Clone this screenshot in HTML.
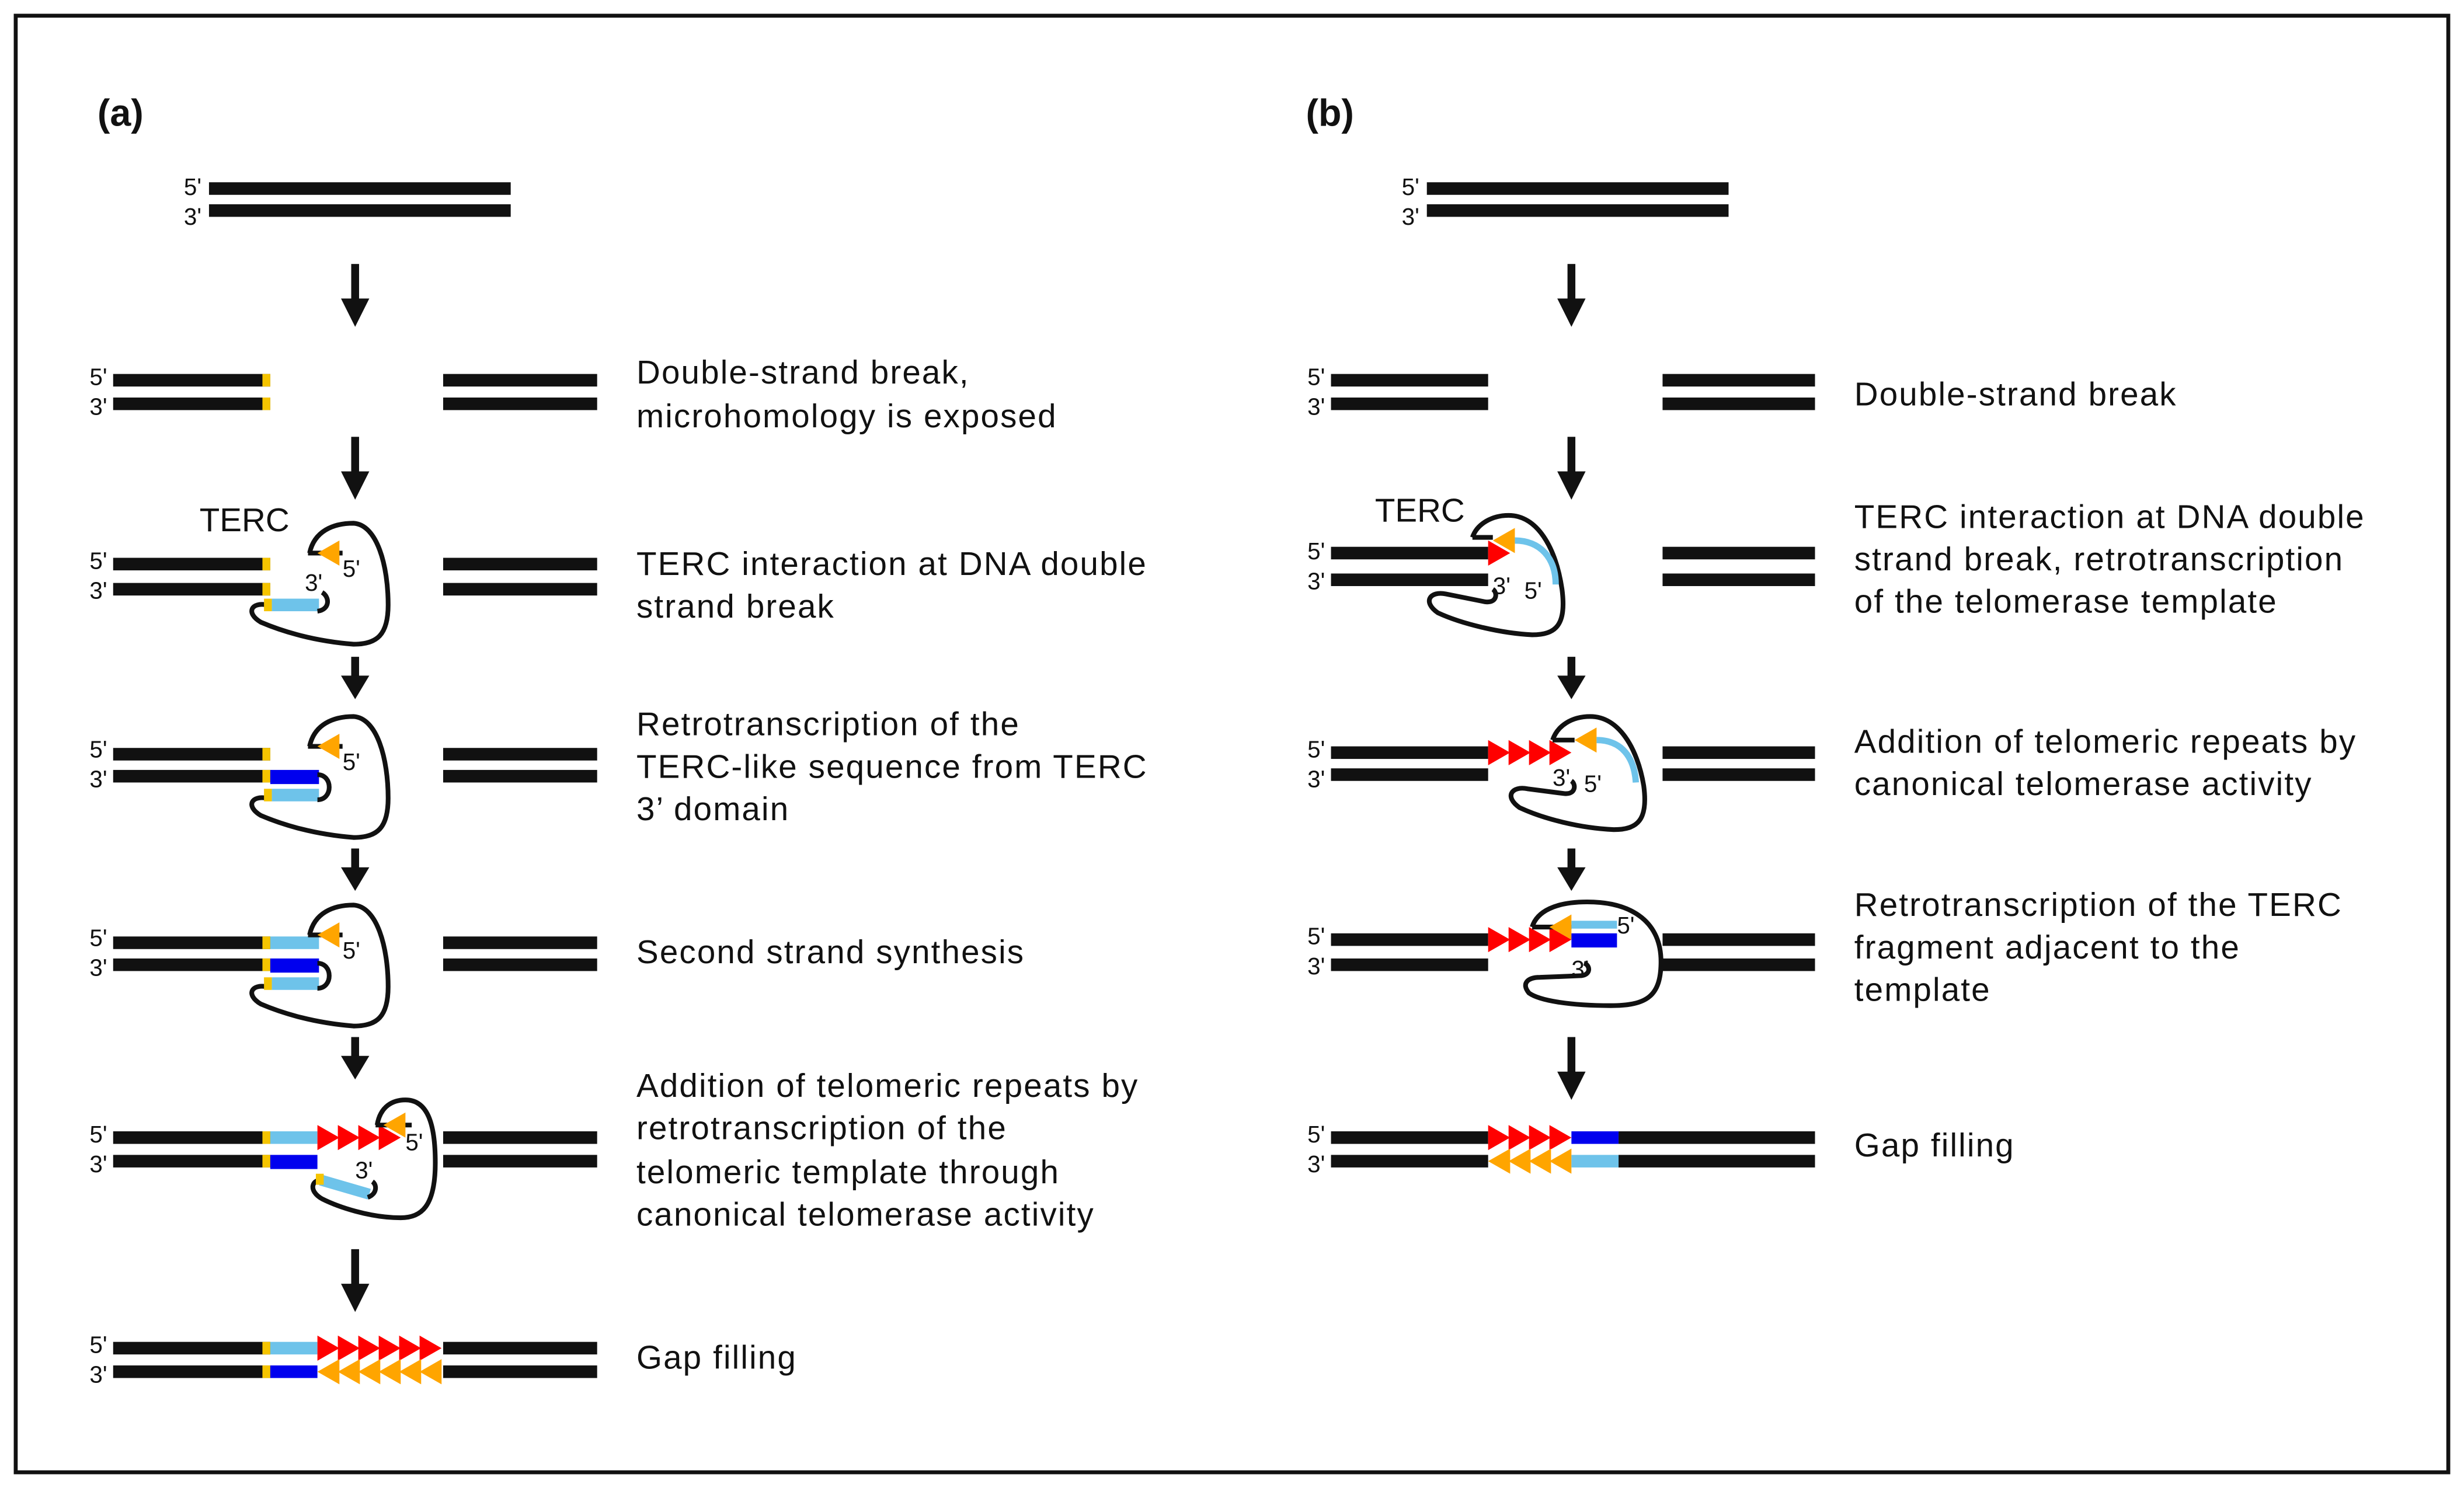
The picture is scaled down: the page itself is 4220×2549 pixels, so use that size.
<!DOCTYPE html>
<html><head><meta charset="utf-8"><style>
html,body{margin:0;padding:0;background:#fff}
svg{display:block}
text{font-family:"Liberation Sans",Arial,sans-serif;fill:#111}
.t{font-size:21px;letter-spacing:0.8px}
.p{font-size:15px}
</style></head><body>
<svg width="4220" height="2549" viewBox="0 0 1568 947" preserveAspectRatio="none" xmlns="http://www.w3.org/2000/svg">
<defs>
<path id="rt" d="M0,-8 L14,0 L0,8 Z" fill="#ff0000"/>
<path id="ot" d="M14,-8 L0,0 L14,8 Z" fill="#ffa500"/>
<g id="arr"><rect x="-2.5" y="0" width="5" height="24" fill="#111"/><path d="M-9,22 L9,22 L0,40 Z" fill="#111"/></g>
<g id="arrs"><rect x="-2.5" y="0" width="5" height="14" fill="#111"/><path d="M-9,12 L9,12 L0,27 Z" fill="#111"/></g>
<g id="loopA" fill="none" stroke="#111" stroke-width="3">
<path d="M197,352 C200,338 212,333 225,333 C240,334 247,360 247,385 C247,404 240,410 225,410 C200,408 180,402 166,396 C156,390 160,383 170,385"/>
<path d="M196,352 L218,352"/>
</g>
</defs>
<rect x="10" y="10" width="1548" height="927" fill="none" stroke="#111" stroke-width="2.5"/>
<text x="62" y="80" style="font-size:24px;font-weight:bold">(a)</text>
<text x="831" y="80" style="font-size:24px;font-weight:bold">(b)</text>

<!-- ===== Panel A ===== -->
<rect x="133" y="116" width="192" height="8" fill="#111"/><rect x="133" y="130" width="192" height="8" fill="#111"/>
<text class="p" x="117" y="124">5'</text><text class="p" x="117" y="143">3'</text>
<use href="#arr" x="226" y="168"/>

<rect x="72" y="238" width="100" height="8" fill="#111"/><rect x="72" y="253" width="100" height="8" fill="#111"/>
<rect x="167" y="238" width="5" height="8" fill="#f5c400"/><rect x="167" y="253" width="5" height="8" fill="#f5c400"/>
<rect x="282" y="238" width="98" height="8" fill="#111"/><rect x="282" y="253" width="98" height="8" fill="#111"/>
<text class="p" x="57" y="245">5'</text><text class="p" x="57" y="264">3'</text>
<text class="t" x="405" y="244">Double-strand break,</text>
<text class="t" x="405" y="272">microhomology is exposed</text>
<use href="#arr" x="226" y="278"/>

<text style="font-size:21px" x="127" y="338">TERC</text>
<rect x="72" y="355" width="100" height="8" fill="#111"/><rect x="72" y="371" width="100" height="8" fill="#111"/>
<rect x="167" y="355" width="5" height="8" fill="#f5c400"/><rect x="167" y="371" width="5" height="8" fill="#f5c400"/>
<rect x="282" y="355" width="98" height="8" fill="#111"/><rect x="282" y="371" width="98" height="8" fill="#111"/>
<text class="p" x="57" y="362">5'</text><text class="p" x="57" y="381">3'</text>
<use href="#loopA"/>
<rect x="168" y="381" width="5" height="8" fill="#f5c400"/><rect x="173" y="381" width="30" height="8" fill="#6ec3ea"/>
<path d="M202,389 C210,388 210,380 205,377" fill="none" stroke="#111" stroke-width="3"/>
<use href="#ot" x="202" y="352"/>
<text class="p" x="218" y="367">5'</text><text class="p" x="194" y="376">3'</text>
<text class="t" x="405" y="366">TERC interaction at DNA double</text>
<text class="t" x="405" y="393">strand break</text>
<use href="#arrs" x="226" y="418"/>

<g transform="translate(0,120)">
<rect x="72" y="356" width="100" height="8" fill="#111"/><rect x="72" y="370" width="100" height="8" fill="#111"/>
<rect x="167" y="356" width="5" height="8" fill="#f5c400"/><rect x="167" y="370" width="5" height="8" fill="#f5c400"/>
<rect x="172" y="370" width="31" height="9" fill="#0000ee"/>
<rect x="282" y="356" width="98" height="8" fill="#111"/><rect x="282" y="370" width="98" height="8" fill="#111"/>
<text class="p" x="57" y="362">5'</text><text class="p" x="57" y="381">3'</text>
<use href="#loopA" transform="translate(0,3)"/>
<rect x="168" y="382" width="5" height="8" fill="#f5c400"/><rect x="173" y="382" width="30" height="8" fill="#6ec3ea"/>
<path d="M202,373 C212,373 212,389 202,389" fill="none" stroke="#111" stroke-width="3"/>
<use href="#ot" x="202" y="355"/>
<text class="p" x="218" y="370">5'</text>
</g>
<text class="t" x="405" y="468">Retrotranscription of the</text>
<text class="t" x="405" y="495">TERC-like sequence from TERC</text>
<text class="t" x="405" y="522">3’ domain</text>
<use href="#arrs" x="226" y="540"/>

<g transform="translate(0,240)">
<rect x="72" y="356" width="100" height="8" fill="#111"/><rect x="72" y="370" width="100" height="8" fill="#111"/>
<rect x="167" y="356" width="5" height="8" fill="#f5c400"/><rect x="167" y="370" width="5" height="8" fill="#f5c400"/>
<rect x="172" y="356" width="31" height="8" fill="#6ec3ea"/>
<rect x="172" y="370" width="31" height="9" fill="#0000ee"/>
<rect x="282" y="356" width="98" height="8" fill="#111"/><rect x="282" y="370" width="98" height="8" fill="#111"/>
<text class="p" x="57" y="362">5'</text><text class="p" x="57" y="381">3'</text>
<use href="#loopA" transform="translate(0,3)"/>
<rect x="168" y="382" width="5" height="8" fill="#f5c400"/><rect x="173" y="382" width="30" height="8" fill="#6ec3ea"/>
<path d="M202,373 C212,373 212,389 202,389" fill="none" stroke="#111" stroke-width="3"/>
<use href="#ot" x="202" y="355"/>
<text class="p" x="218" y="370">5'</text>
</g>
<text class="t" x="405" y="613">Second strand synthesis</text>
<use href="#arrs" x="226" y="660"/>

<rect x="72" y="720" width="100" height="8" fill="#111"/><rect x="72" y="735" width="100" height="8" fill="#111"/>
<rect x="167" y="720" width="5" height="8" fill="#f5c400"/><rect x="167" y="735" width="5" height="8" fill="#f5c400"/>
<rect x="172" y="720" width="30" height="8" fill="#6ec3ea"/>
<rect x="172" y="735" width="30" height="9" fill="#0000ee"/>
<rect x="282" y="720" width="98" height="8" fill="#111"/><rect x="282" y="735" width="98" height="8" fill="#111"/>
<text class="p" x="57" y="727">5'</text><text class="p" x="57" y="746">3'</text>
<use href="#rt" x="202" y="724"/><use href="#rt" x="215" y="724"/><use href="#rt" x="228" y="724"/><use href="#rt" x="241" y="724"/>
<g fill="none" stroke="#111" stroke-width="3">
<path d="M240,716 C242,704 250,700 258,700 C272,700 277,715 277,740 C277,768 268,775 255,775 C235,775 215,768 205,763 C196,758 198,750 206,751"/>
<path d="M239,716 L262,716"/>
</g>
<path d="M204,751 L235,760" stroke="#6ec3ea" stroke-width="7"/>
<rect x="201" y="747" width="5" height="7" fill="#f5c400"/>
<path d="M234,762 C240,760 240,754 237,752" fill="none" stroke="#111" stroke-width="3"/>
<use href="#ot" x="244" y="716"/>
<text class="p" x="258" y="732">5'</text><text class="p" x="226" y="750">3'</text>
<text class="t" x="405" y="698">Addition of telomeric repeats by</text>
<text class="t" x="405" y="725">retrotranscription of the</text>
<text class="t" x="405" y="753">telomeric template through</text>
<text class="t" x="405" y="780">canonical telomerase activity</text>
<use href="#arr" x="226" y="795"/>

<rect x="72" y="854" width="100" height="8" fill="#111"/><rect x="72" y="869" width="100" height="8" fill="#111"/>
<rect x="167" y="854" width="5" height="8" fill="#f5c400"/><rect x="167" y="869" width="5" height="8" fill="#f5c400"/>
<rect x="172" y="854" width="30" height="8" fill="#6ec3ea"/><rect x="172" y="869" width="30" height="8" fill="#0000ee"/>
<use href="#rt" x="202" y="858"/><use href="#rt" x="215" y="858"/><use href="#rt" x="228" y="858"/><use href="#rt" x="241" y="858"/><use href="#rt" x="254" y="858"/><use href="#rt" x="267" y="858"/>
<use href="#ot" x="202" y="873"/><use href="#ot" x="215" y="873"/><use href="#ot" x="228" y="873"/><use href="#ot" x="241" y="873"/><use href="#ot" x="254" y="873"/><use href="#ot" x="267" y="873"/>
<rect x="282" y="854" width="98" height="8" fill="#111"/><rect x="282" y="869" width="98" height="8" fill="#111"/>
<text class="p" x="57" y="861">5'</text><text class="p" x="57" y="880">3'</text>
<text class="t" x="405" y="871">Gap filling</text>

<!-- ===== Panel B ===== -->
<rect x="908" y="116" width="192" height="8" fill="#111"/><rect x="908" y="130" width="192" height="8" fill="#111"/>
<text class="p" x="892" y="124">5'</text><text class="p" x="892" y="143">3'</text>
<use href="#arr" x="1000" y="168"/>

<rect x="847" y="238" width="100" height="8" fill="#111"/><rect x="847" y="253" width="100" height="8" fill="#111"/>
<rect x="1058" y="238" width="97" height="8" fill="#111"/><rect x="1058" y="253" width="97" height="8" fill="#111"/>
<text class="p" x="832" y="245">5'</text><text class="p" x="832" y="264">3'</text>
<text class="t" x="1180" y="258">Double-strand break</text>
<use href="#arr" x="1000" y="278"/>

<text style="font-size:21px" x="875" y="332">TERC</text>
<rect x="847" y="348" width="100" height="8" fill="#111"/><rect x="847" y="365" width="100" height="8" fill="#111"/>
<rect x="1058" y="348" width="97" height="8" fill="#111"/><rect x="1058" y="365" width="97" height="8" fill="#111"/>
<text class="p" x="832" y="356">5'</text><text class="p" x="832" y="375">3'</text>
<g fill="none" stroke="#111" stroke-width="3">
<path d="M937,342 C940,333 950,328 960,328 C978,328 990,348 994,375 C997,398 990,404 975,404 C955,403 930,397 915,390 C905,383 910,376 920,378 L945,383 C953,384 953,377 950,375"/>
<path d="M937,342 L950,342"/>
</g>
<use href="#rt" x="947" y="352"/>
<use href="#ot" x="950" y="344"/>
<path d="M964,344 C980,344 990,355 990,372" fill="none" stroke="#6ec3ea" stroke-width="4"/>
<text class="p" x="950" y="378">3'</text><text class="p" x="970" y="381">5'</text>
<text class="t" x="1180" y="336">TERC interaction at DNA double</text>
<text class="t" x="1180" y="363">strand break, retrotranscription</text>
<text class="t" x="1180" y="390">of the telomerase template</text>
<use href="#arrs" x="1000" y="418"/>

<rect x="847" y="475" width="100" height="8" fill="#111"/><rect x="847" y="489" width="100" height="8" fill="#111"/>
<rect x="1058" y="475" width="97" height="8" fill="#111"/><rect x="1058" y="489" width="97" height="8" fill="#111"/>
<text class="p" x="832" y="482">5'</text><text class="p" x="832" y="501">3'</text>
<use href="#rt" x="947" y="479"/><use href="#rt" x="960" y="479"/><use href="#rt" x="973" y="479"/><use href="#rt" x="986" y="479"/>
<g fill="none" stroke="#111" stroke-width="3">
<path d="M988,471 C991,462 1000,456 1012,456 C1030,456 1042,476 1046,500 C1049,522 1042,528 1027,528 C1005,527 982,521 967,514 C957,507 962,500 972,502 L995,505 C1003,506 1003,499 1000,497"/>
<path d="M988,471 L1002,471"/>
</g>
<use href="#ot" x="1002" y="471"/>
<path d="M1016,471 C1032,471 1040,482 1041,498" fill="none" stroke="#6ec3ea" stroke-width="4"/>
<text class="p" x="988" y="500">3'</text><text class="p" x="1008" y="504">5'</text>
<text class="t" x="1180" y="479">Addition of telomeric repeats by</text>
<text class="t" x="1180" y="506">canonical telomerase activity</text>
<use href="#arrs" x="1000" y="540"/>

<rect x="847" y="594" width="100" height="8" fill="#111"/><rect x="847" y="610" width="100" height="8" fill="#111"/>
<rect x="1058" y="594" width="97" height="8" fill="#111"/><rect x="1058" y="610" width="97" height="8" fill="#111"/>
<text class="p" x="832" y="601">5'</text><text class="p" x="832" y="620">3'</text>
<use href="#rt" x="947" y="598"/><use href="#rt" x="960" y="598"/><use href="#rt" x="973" y="598"/><use href="#rt" x="986" y="598"/>
<g fill="none" stroke="#111" stroke-width="3">
<path d="M975,590 C978,580 990,574 1010,574 C1040,574 1057,588 1057,612 C1057,634 1048,640 1025,640 C1000,640 980,637 973,632 C968,626 972,622 980,622 L1005,621 C1013,621 1012,614 1008,613"/>
<path d="M975,590 L1000,590"/>
</g>
<use href="#ot" x="986" y="590"/>
<rect x="1000" y="586" width="29" height="5" fill="#6ec3ea"/>
<rect x="1000" y="594" width="29" height="9" fill="#0000ee"/>
<text class="p" x="1029" y="594">5'</text><text class="p" x="1000" y="622">3'</text>
<text class="t" x="1180" y="583">Retrotranscription of the TERC</text>
<text class="t" x="1180" y="610">fragment adjacent to the</text>
<text class="t" x="1180" y="637">template</text>
<use href="#arr" x="1000" y="660"/>

<rect x="847" y="720" width="100" height="8" fill="#111"/><rect x="847" y="735" width="100" height="8" fill="#111"/>
<use href="#rt" x="947" y="724"/><use href="#rt" x="960" y="724"/><use href="#rt" x="973" y="724"/><use href="#rt" x="986" y="724"/>
<use href="#ot" x="947" y="739"/><use href="#ot" x="960" y="739"/><use href="#ot" x="973" y="739"/><use href="#ot" x="986" y="739"/>
<rect x="1000" y="720" width="30" height="8" fill="#0000ee"/><rect x="1000" y="735" width="30" height="8" fill="#6ec3ea"/>
<rect x="1030" y="720" width="125" height="8" fill="#111"/><rect x="1030" y="735" width="125" height="8" fill="#111"/>
<text class="p" x="832" y="727">5'</text><text class="p" x="832" y="746">3'</text>
<text class="t" x="1180" y="736">Gap filling</text>
</svg>
</body></html>
